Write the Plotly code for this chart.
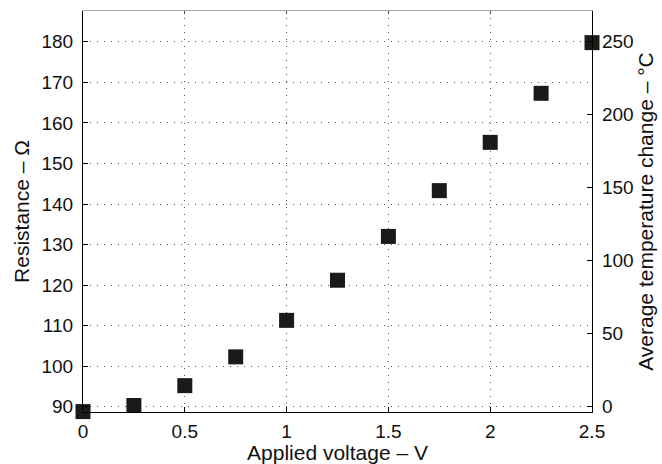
import plotly.graph_objects as go

voltage = [0, 0.25, 0.5, 0.75, 1.0, 1.25, 1.5, 1.75, 2.0, 2.25, 2.5]
resistance = [88.8, 90.3, 95.2, 102.3, 111.3, 121.2, 132.0, 143.3, 155.2, 167.3, 179.8]

x_ticks = [0, 0.5, 1, 1.5, 2, 2.5]
x_ticklabels = ["0", "0.5", "1", "1.5", "2", "2.5"]
left_ticks = [90, 100, 110, 120, 130, 140, 150, 160, 170, 180]
right_ticks = [0, 50, 100, 150, 200, 250]

x_range = [0, 2.5]
left_range = [88.7, 187.6]
# right axis: 0 °C aligned to 90 Ω and 250 °C aligned to 180 Ω
right_range = [(left_range[0] - 90) * 250 / 90, (left_range[1] - 90) * 250 / 90]

font_family = "Liberation Sans, Arial, sans-serif"

fig = go.Figure()
fig.add_trace(go.Scatter(x=[None], y=[None], mode="markers", showlegend=False,
                         xaxis="x2", yaxis="y", hoverinfo="skip"))
fig.add_trace(go.Scatter(x=[None], y=[None], mode="markers", showlegend=False,
                         xaxis="x", yaxis="y2", hoverinfo="skip"))
fig.add_trace(go.Scatter(
    x=voltage, y=resistance, mode="markers",
    marker=dict(symbol="square", size=15, color="#1a1a1a", line=dict(width=0)),
    cliponaxis=False, showlegend=False, xaxis="x", yaxis="y",
))

axis_common = dict(
    showline=True, linecolor="black", linewidth=1.2,
    ticks="inside", ticklen=5, tickcolor="black",
    tickfont=dict(family=font_family, size=19, color="#111"),
    zeroline=False, automargin=False,
)
grid = dict(showgrid=True, gridcolor="#555", griddash="1px,6px", gridwidth=1)

fig.update_layout(
    width=662, height=464,
    margin=dict(l=83, r=70, t=11, b=52),
    paper_bgcolor="white", plot_bgcolor="white",
    font=dict(family=font_family, color="#111"),
    xaxis=dict(
        range=x_range, tickvals=x_ticks, ticktext=x_ticklabels, **grid,
        title=dict(text="Applied voltage – V", font=dict(size=21, family=font_family), standoff=0),
        ticklabelstandoff=2,
        **axis_common,
    ),
    xaxis2=dict(
        range=x_range, tickvals=x_ticks, overlaying="x", side="top",
        showgrid=False, showticklabels=False, showline=True, linecolor="#aaa",
        linewidth=1, ticks="inside", ticklen=3, tickcolor="#444", zeroline=False,
        automargin=False,
    ),
    yaxis=dict(
        range=left_range, tickvals=left_ticks, **grid,
        title=dict(text="Resistance – Ω", font=dict(size=21, family=font_family), standoff=6),
        ticklabelstandoff=5,
        **axis_common,
    ),
    yaxis2=dict(
        range=right_range, tickvals=right_ticks, overlaying="y", side="right",
        showgrid=False,
        title=dict(text="Average temperature change – °C", font=dict(size=21, family=font_family), standoff=4),
        ticklabelstandoff=5,
        **axis_common,
    ),
)

fig.write_html("out.html")
